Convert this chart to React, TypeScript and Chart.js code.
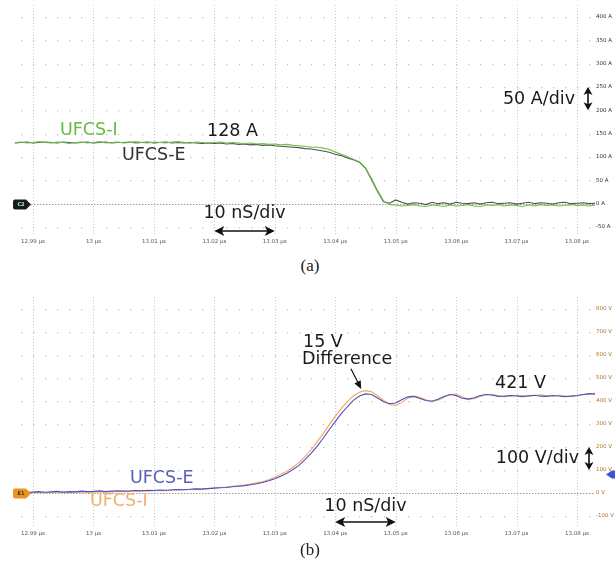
import React, { useEffect, useRef } from "react";
import { Chart, registerables } from "chart.js";

Chart.register(...registerables);

// time axis, ns after 12.99 µs
const TIME_NS = [
  -3, -2, -1, 0, 1, 2, 3, 4, 5, 6,
  7, 8, 9, 10, 11, 12, 13, 14, 15, 16,
  17, 18, 19, 20, 21, 22, 23, 24, 25, 26,
  27, 28, 29, 30, 31, 32, 33, 34, 35, 36,
  37, 38, 39, 40, 41, 42, 43, 44, 45, 46,
  47, 48, 49, 50, 51, 52, 53, 54, 55, 56,
  57, 58, 59, 60, 61, 62, 63, 64, 65, 66,
  67, 68, 69, 70, 71, 72, 73, 74, 75, 76,
  77, 78, 79, 80, 81, 82, 83, 84, 85, 86,
  87, 88, 89, 90, 91, 92, 93,
];

const X_TICK_VALUES = [0, 10, 20, 30, 40, 50, 60, 70, 80, 90];
const X_TICK_LABELS = [
  "12.99 µs", "13 µs", "13.01 µs", "13.02 µs", "13.03 µs",
  "13.04 µs", "13.05 µs", "13.06 µs", "13.07 µs", "13.08 µs",
];
const CURRENT_TICKS = [-50, 0, 50, 100, 150, 200, 250, 300, 350, 400];
const VOLTAGE_TICKS = [-100, 0, 100, 200, 300, 400, 500, 600, 700, 800];

// (a) current, A
const CURRENT_UFCS_I = [
  131, 132, 130, 131, 133, 131, 130, 132, 131, 129,
  131, 132, 130, 131, 133, 130, 131, 132, 130, 131,
  133, 131, 130, 132, 131, 130, 132, 133, 131, 130,
  132, 131, 130, 131, 132, 130, 131, 130, 129, 130,
  128, 129, 127, 128, 126, 127, 125, 124, 123, 121,
  121, 119, 116, 111, 106, 101, 95, 90, 77, 54,
  28, 6, -2, -3, -5, -4, -2, -5, -6, -3,
  -4, -6, -3, -5, -4, -2, -5, -6, -3, -4,
  -2, -5, -3, -4, -6, -3, -5, -2, -4, -3,
  -5, -4, -2, -4, -3, -5, -3,
];
const CURRENT_UFCS_E = [
  130, 131, 132, 130, 131, 132, 131, 130, 132, 131,
  130, 131, 132, 130, 131, 132, 130, 131, 131, 132,
  130, 131, 132, 130, 131, 132, 130, 131, 130, 131,
  130, 129, 130, 129, 130, 128, 129, 127, 128, 126,
  127, 125, 126, 124, 123, 122, 121, 120, 118, 117,
  115, 113, 110, 106, 103, 98, 94, 89, 76, 52,
  26, 4, 1, 8, 3, -1, 2, 1, -2, 3,
  0, 2, -1, 3, 1, 0, 2, -1, 2, 3,
  0, 1, 2, -1, 1, 3, 0, 2, 1, -1,
  2, 3, 0, 1, 2, 0, 1,
];

// (b) voltage, V
const VOLTAGE_UFCS_E = [
  3, 5, 2, 4, 6, 3, 5, 7, 4, 6,
  5, 8, 6, 7, 9, 6, 8, 10, 8, 9,
  11, 10, 12, 11, 13, 12, 14, 15, 14, 16,
  18, 17, 19, 21, 23, 24, 27, 29, 32, 36,
  40, 46, 53, 62, 73, 86, 102, 120, 145, 172,
  203, 238, 275, 310, 345, 375, 403, 422, 431, 428,
  413, 397, 388, 391, 405, 418, 420, 411, 402, 399,
  408, 420, 428, 424, 412, 408, 414, 424, 428, 425,
  420, 421, 424, 422, 419, 423, 425, 421, 420, 424,
  422, 419, 421, 424, 428, 432, 430,
];
const VOLTAGE_UFCS_I = [
  1, 2, 0, 2, 3, 1, 2, 4, 3, 2,
  4, 5, 3, 4, 6, 5, 5, 7, 6, 7,
  8, 9, 8, 10, 11, 10, 12, 13, 14, 15,
  17, 18, 20, 22, 24, 26, 29, 32, 35, 39,
  44, 50, 58, 68, 80, 95, 112, 132, 158, 188,
  222, 258, 296, 333, 367, 397, 422, 438, 445, 440,
  423, 402, 385, 381, 394, 412, 421, 416, 405, 398,
  403, 416, 428, 429, 418, 408, 410, 420, 428, 429,
  423, 419, 421, 425, 423, 420, 424, 427, 423, 421,
  425, 422, 420, 423, 427, 431, 433,
];

const FONT = '"DejaVu Sans", Verdana, sans-serif';
const ANNOT_SIZE = 17.5;

function pts(ys: number[]) {
  return TIME_NS.map((t, i) => ({ x: t, y: ys[i] }));
}

function text(ctx: CanvasRenderingContext2D, s: string, x: number, y: number, color: string, align: CanvasTextAlign = "left") {
  ctx.save();
  ctx.font = `${ANNOT_SIZE}px ${FONT}`;
  ctx.fillStyle = color;
  ctx.textAlign = align;
  ctx.textBaseline = "middle";
  ctx.fillText(s, x, y);
  ctx.restore();
}

function arrowH(ctx: CanvasRenderingContext2D, x1: number, x2: number, y: number) {
  const head = 10, half = 5;
  ctx.save();
  ctx.strokeStyle = "#111";
  ctx.fillStyle = "#111";
  ctx.lineWidth = 1.6;
  ctx.beginPath();
  ctx.moveTo(x1 + 4, y);
  ctx.lineTo(x2 - 4, y);
  ctx.stroke();
  ctx.beginPath();
  ctx.moveTo(x1, y);
  ctx.lineTo(x1 + head, y - half);
  ctx.lineTo(x1 + head * 0.75, y);
  ctx.lineTo(x1 + head, y + half);
  ctx.closePath();
  ctx.fill();
  ctx.beginPath();
  ctx.moveTo(x2, y);
  ctx.lineTo(x2 - head, y - half);
  ctx.lineTo(x2 - head * 0.75, y);
  ctx.lineTo(x2 - head, y + half);
  ctx.closePath();
  ctx.fill();
  ctx.restore();
}

function arrowV(ctx: CanvasRenderingContext2D, x: number, y1: number, y2: number) {
  const head = 8, half = 4.5;
  ctx.save();
  ctx.strokeStyle = "#111";
  ctx.fillStyle = "#111";
  ctx.lineWidth = 1.6;
  ctx.beginPath();
  ctx.moveTo(x, y1 + 3);
  ctx.lineTo(x, y2 - 3);
  ctx.stroke();
  ctx.beginPath();
  ctx.moveTo(x, y1);
  ctx.lineTo(x - half, y1 + head);
  ctx.lineTo(x, y1 + head * 0.75);
  ctx.lineTo(x + half, y1 + head);
  ctx.closePath();
  ctx.fill();
  ctx.beginPath();
  ctx.moveTo(x, y2);
  ctx.lineTo(x - half, y2 - head);
  ctx.lineTo(x, y2 - head * 0.75);
  ctx.lineTo(x + half, y2 - head);
  ctx.closePath();
  ctx.fill();
  ctx.restore();
}

function arrowTo(ctx: CanvasRenderingContext2D, x1: number, y1: number, x2: number, y2: number) {
  const ang = Math.atan2(y2 - y1, x2 - x1);
  const head = 8, half = 3.5;
  ctx.save();
  ctx.strokeStyle = "#111";
  ctx.fillStyle = "#111";
  ctx.lineWidth = 1.2;
  ctx.beginPath();
  ctx.moveTo(x1, y1);
  ctx.lineTo(x2 - Math.cos(ang) * head * 0.7, y2 - Math.sin(ang) * head * 0.7);
  ctx.stroke();
  ctx.translate(x2, y2);
  ctx.rotate(ang);
  ctx.beginPath();
  ctx.moveTo(0, 0);
  ctx.lineTo(-head, -half);
  ctx.lineTo(-head, half);
  ctx.closePath();
  ctx.fill();
  ctx.restore();
}

function tag(ctx: CanvasRenderingContext2D, y: number, fill: string, label: string, textColor: string) {
  ctx.save();
  ctx.fillStyle = fill;
  ctx.beginPath();
  ctx.moveTo(15, y - 5);
  ctx.lineTo(26, y - 5);
  ctx.lineTo(31, y);
  ctx.lineTo(26, y + 5);
  ctx.lineTo(15, y + 5);
  ctx.quadraticCurveTo(13, y + 5, 13, y + 3);
  ctx.lineTo(13, y - 3);
  ctx.quadraticCurveTo(13, y - 5, 15, y - 5);
  ctx.closePath();
  ctx.fill();
  ctx.fillStyle = textColor;
  ctx.font = `bold 5px ${FONT}`;
  ctx.textAlign = "center";
  ctx.textBaseline = "middle";
  ctx.fillText(label, 21, y + 0.5);
  ctx.restore();
}

function gridPlugin(yTicks: number[]) {
  return {
    id: "scopeGrid",
    beforeDatasetsDraw(chart: any) {
      const { ctx, chartArea: a, scales } = chart;
      const xs = scales.x, ys = scales.y;
      ctx.save();
      ctx.strokeStyle = "#cdcdcd";
      ctx.lineWidth = 1;
      ctx.setLineDash([1, 2]);
      for (const v of X_TICK_VALUES) {
        const x = Math.round(xs.getPixelForValue(v)) + 0.5;
        ctx.beginPath();
        ctx.moveTo(x, a.top);
        ctx.lineTo(x, a.bottom);
        ctx.stroke();
      }
      ctx.setLineDash([]);
      ctx.fillStyle = "#c2c2c2";
      const x0 = xs.getPixelForValue(0);
      const step = (xs.getPixelForValue(10) - x0) / 5;
      for (const v of yTicks) {
        if (v === 0) continue;
        const y = Math.round(ys.getPixelForValue(v));
        const k = Math.ceil((a.left - x0) / step);
        for (let x = x0 + k * step; x <= a.right; x += step) {
          ctx.fillRect(Math.round(x), y, 1.3, 1.3);
        }
      }
      const yz = Math.round(ys.getPixelForValue(0)) + 0.5;
      ctx.strokeStyle = "#9a9a9a";
      ctx.setLineDash([1.5, 1.5]);
      ctx.beginPath();
      ctx.moveTo(31, yz);
      ctx.lineTo(a.right, yz);
      ctx.stroke();
      ctx.restore();
    },
  };
}

function baseOptions(yMin: number, yMax: number, yTicks: number[], unit: string, yColor: string) {
  return {
    animation: false as const,
    responsive: false,
    maintainAspectRatio: false,
    layout: { padding: { left: 13, right: 0, top: 5, bottom: 0 } },
    plugins: { legend: { display: false }, tooltip: { enabled: false } },
    elements: { point: { radius: 0 }, line: { tension: 0, borderWidth: 1.1 } },
    scales: {
      x: {
        type: "linear" as const,
        min: -3.31,
        max: 92.98,
        afterBuildTicks: (s: any) => {
          s.ticks = X_TICK_VALUES.map((v) => ({ value: v }));
        },
        afterFit: (s: any) => {
          s.height = 16;
        },
        grid: { display: false, drawTicks: false },
        border: { display: false },
        ticks: {
          autoSkip: false,
          maxRotation: 0,
          minRotation: 0,
          padding: 4,
          color: "#555",
          font: { size: 5.5, family: FONT },
          callback: (v: any) => X_TICK_LABELS[X_TICK_VALUES.indexOf(Number(v))] ?? "",
        },
      },
      y: {
        position: "right" as const,
        min: yMin,
        max: yMax,
        afterBuildTicks: (s: any) => {
          s.ticks = yTicks.map((v) => ({ value: v }));
        },
        afterFit: (s: any) => {
          s.width = 20;
        },
        grid: { display: false, drawTicks: false },
        border: { display: false },
        ticks: {
          autoSkip: false,
          padding: 1,
          color: yColor,
          font: { size: 5.5, family: FONT },
          callback: (v: any) => `${v} ${unit}`,
        },
      },
    },
  };
}

export default function App() {
  const refA = useRef<HTMLCanvasElement | null>(null);
  const refB = useRef<HTMLCanvasElement | null>(null);

  useEffect(() => {
    document.body.style.margin = "0";
    document.body.style.background = "#fff";

    const annotA = {
      id: "annotA",
      afterDatasetsDraw(chart: any) {
        const { ctx, scales } = chart;
        const xs = scales.x, ys = scales.y;
        tag(ctx, Math.round(ys.getPixelForValue(0)) + 0.5, "#1a1a1a", "C2", "#9fb");
        text(ctx, "UFCS-I", 60, 130, "#66bb44");
        text(ctx, "128 A", 207, 131, "#1a1a1a");
        text(ctx, "UFCS-E", 122, 155, "#333");
        const ax1 = xs.getPixelForValue(30), ax2 = xs.getPixelForValue(40);
        text(ctx, "10 nS/div", (ax1 + ax2) / 2, 213, "#1a1a1a", "center");
        arrowH(ctx, ax1, ax2, 231);
        text(ctx, "50 A/div", 575, 99, "#1a1a1a", "right");
        arrowV(ctx, 588, ys.getPixelForValue(250), ys.getPixelForValue(200));
      },
    };

    const annotB = {
      id: "annotB",
      afterDatasetsDraw(chart: any) {
        const { ctx, scales } = chart;
        const xs = scales.x, ys = scales.y;
        tag(ctx, Math.round(ys.getPixelForValue(0)) + 0.5, "#e8922a", "E1", "#5a3000");
        // right-side level marker
        ctx.save();
        ctx.fillStyle = "#3f55c8";
        const my = ys.getPixelForValue(80);
        ctx.beginPath();
        ctx.moveTo(606, my);
        ctx.lineTo(612, my - 4);
        ctx.lineTo(615, my - 4);
        ctx.lineTo(615, my + 4);
        ctx.lineTo(612, my + 4);
        ctx.closePath();
        ctx.fill();
        ctx.restore();
        text(ctx, "15 V", 303, 50, "#1a1a1a");
        text(ctx, "Difference", 302, 67, "#1a1a1a");
        arrowTo(ctx, xs.getPixelForValue(52.6), ys.getPixelForValue(540), xs.getPixelForValue(54.3), ys.getPixelForValue(452));
        text(ctx, "421 V", 495, 91, "#1a1a1a");
        text(ctx, "UFCS-E", 130, 186, "#5a5fb5");
        text(ctx, "UFCS-I", 90, 209, "#f0b070");
        const ax1 = xs.getPixelForValue(50), ax2 = xs.getPixelForValue(60);
        text(ctx, "10 nS/div", (ax1 + ax2) / 2, 214, "#1a1a1a", "center");
        arrowH(ctx, ax1, ax2, 230);
        text(ctx, "100 V/div", 579, 166, "#1a1a1a", "right");
        arrowV(ctx, 589, ys.getPixelForValue(200), ys.getPixelForValue(100));
      },
    };

    const chartA = new Chart(refA.current as HTMLCanvasElement, {
      type: "line",
      data: {
        datasets: [
          { label: "UFCS-I", data: pts(CURRENT_UFCS_I), borderColor: "#6cc04a" },
          { label: "UFCS-E", data: pts(CURRENT_UFCS_E), borderColor: "#505050" },
        ],
      },
      options: baseOptions(-65, 425.7, CURRENT_TICKS, "A", "#333") as any,
      plugins: [gridPlugin(CURRENT_TICKS), annotA],
    });

    const chartB = new Chart(refB.current as HTMLCanvasElement, {
      type: "line",
      data: {
        datasets: [
          { label: "UFCS-E", data: pts(VOLTAGE_UFCS_E), borderColor: "#4b52c4" },
          { label: "UFCS-I", data: pts(VOLTAGE_UFCS_I), borderColor: "#f5a656" },
        ],
      },
      options: baseOptions(-143.5, 852.2, VOLTAGE_TICKS, "V", "#b8742a") as any,
      plugins: [gridPlugin(VOLTAGE_TICKS), annotB],
    });

    return () => {
      chartA.destroy();
      chartB.destroy();
    };
  }, []);

  const capStyle: React.CSSProperties = {
    position: "absolute",
    left: 0,
    width: 620,
    textAlign: "center",
    fontFamily: '"Liberation Serif", "Times New Roman", serif',
    fontSize: 17,
    color: "#222",
    lineHeight: "20px",
  };

  return (
    <div style={{ position: "relative", width: 615, height: 563, background: "#fff", overflow: "hidden" }}>
      <canvas ref={refA} width={615} height={250} style={{ position: "absolute", left: 0, top: 0, width: 615, height: 250 }} />
      <div style={{ ...capStyle, top: 256 }}>(a)</div>
      <canvas ref={refB} width={615} height={250} style={{ position: "absolute", left: 0, top: 292, width: 615, height: 250 }} />
      <div style={{ ...capStyle, top: 540 }}>(b)</div>
    </div>
  );
}
